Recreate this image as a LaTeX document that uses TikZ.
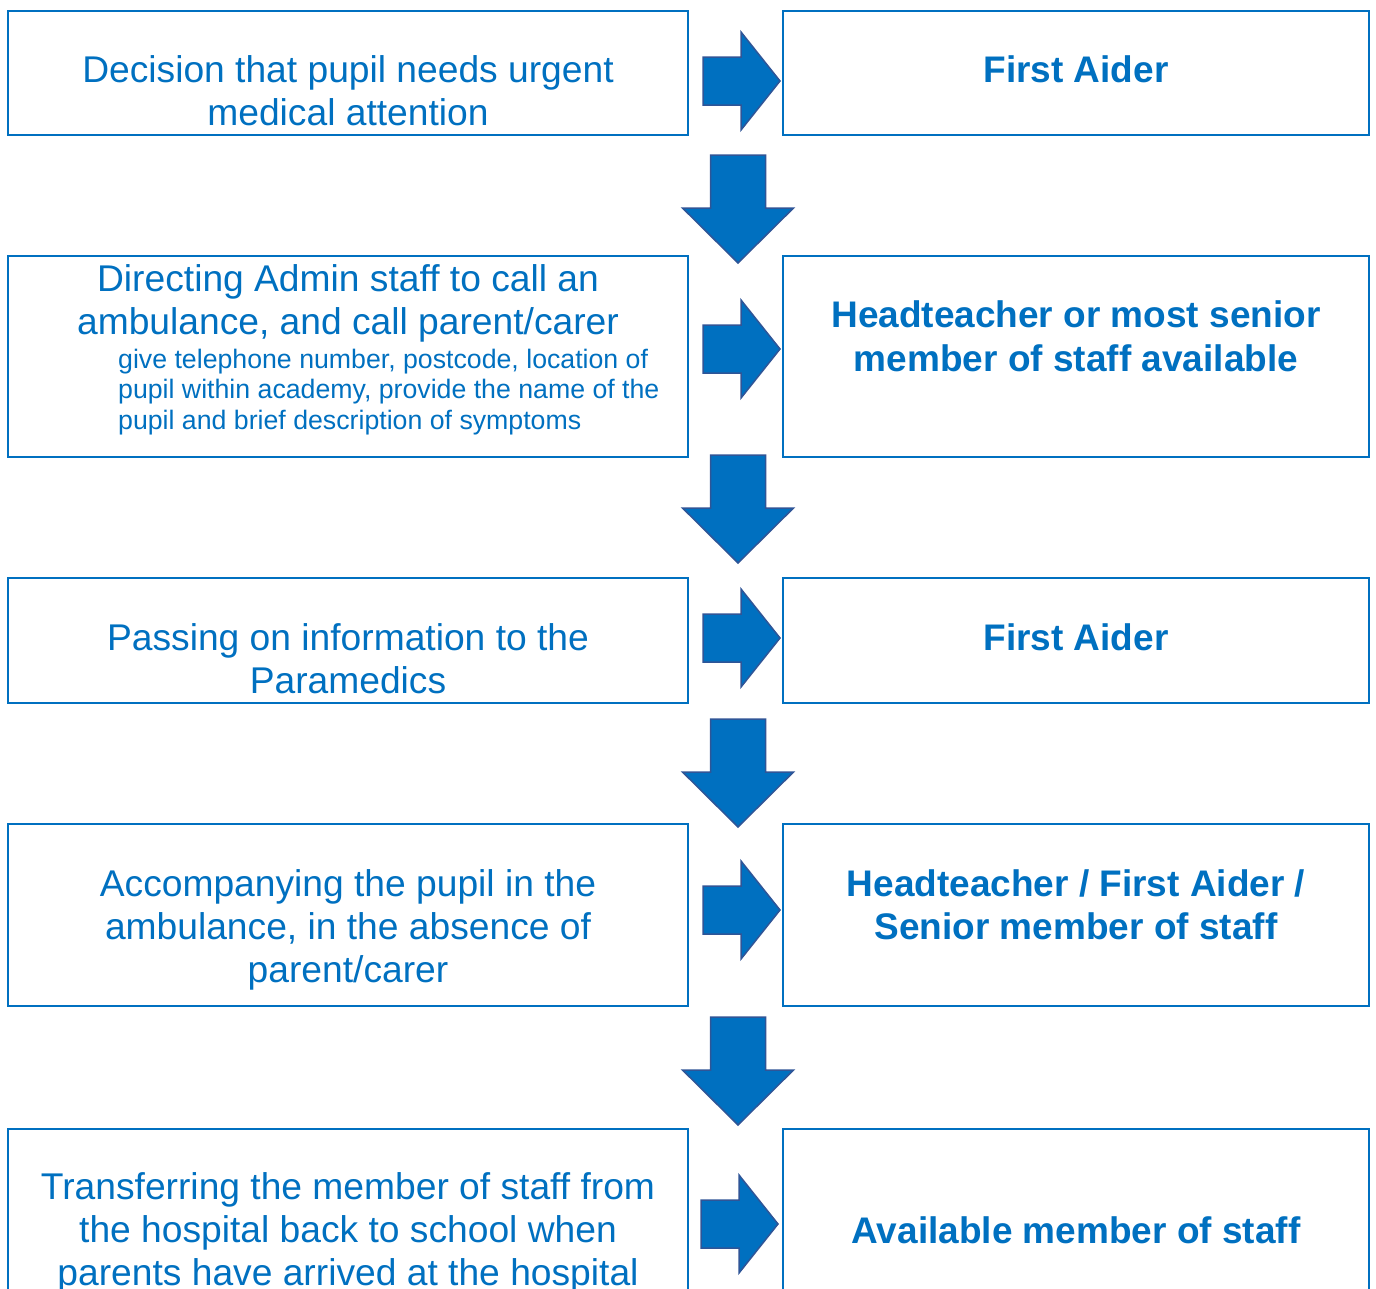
\documentclass[tikz,border=0pt]{standalone}
\usepackage{fontspec}
\setmainfont{Liberation Sans}
\definecolor{blu}{HTML}{0070C0}
\definecolor{arrowline}{HTML}{2F5597}
\begin{document}
\begin{tikzpicture}[x=1pt,y=-1pt,
 box/.style={draw=blu, line width=2pt, inner sep=0pt},
 big/.style={font=\fontsize{37.2}{43}\selectfont, text=blu, align=center, inner sep=0pt, anchor=base},
 boldtxt/.style={font=\fontsize{37}{43.5}\selectfont\bfseries, text=blu, align=center, inner sep=0pt, anchor=base},
 small/.style={font=\fontsize{26.7}{30.5}\selectfont, text=blu, align=left, inner sep=0pt, anchor=base west},
 blockarrow/.style={fill=blu, draw=arrowline, line width=1.5pt, line join=miter},
 rarrow/.pic={\path[blockarrow] (0,-24) -- (38,-24) -- (38,-49) -- (77,0) -- (38,49) -- (38,24) -- (0,24) -- cycle;},
 darrow/.pic={\path[blockarrow] (-27.5,0) -- (27.5,0) -- (27.5,53) -- (55.5,53) -- (0,108) -- (-55.5,53) -- (-27.5,53) -- cycle;}]
\useasboundingbox (0,0) rectangle (1376,1288);
\clip (0,0) rectangle (1376,1288);
% boxes
\node[box, minimum width=680pt, minimum height=124pt] (L1) at (348,73) {};
\node[box, minimum width=586pt, minimum height=124pt] (R1) at (1076,73) {};
\node[box, minimum width=680pt, minimum height=201pt] (L2) at (348,356.5) {};
\node[box, minimum width=586pt, minimum height=201pt] (R2) at (1076,356.5) {};
\node[box, minimum width=680pt, minimum height=125pt] (L3) at (348,640.5) {};
\node[box, minimum width=586pt, minimum height=125pt] (R3) at (1076,640.5) {};
\node[box, minimum width=680pt, minimum height=182pt] (L4) at (348,915) {};
\node[box, minimum width=586pt, minimum height=182pt] (R4) at (1076,915) {};
\node[box, minimum width=680pt, minimum height=190pt] (L5) at (348,1224) {};
\node[box, minimum width=586pt, minimum height=190pt] (R5) at (1076,1224) {};
% texts (anchor = baseline of last line)
\node[big] (t1) at (348,125) {Decision that pupil needs urgent\\medical attention};
\node[boldtxt] (u1) at (1076,82) {First Aider};
\node[big] (t2) at (348,334) {Directing Admin staff to call an\\ambulance, and call parent/carer};
\node[small] (t2s) at (118,429) {give telephone number, postcode, location of\\pupil within academy, provide the name of the\\pupil and brief description of symptoms};
\node[boldtxt] (u2) at (1076,371) {Headteacher or most senior\\member of staff available};
\node[big] (t3) at (348,693.5) {Passing on information to the\\Paramedics};
\node[boldtxt] (u3) at (1076,650.5) {First Aider};
\node[big] (t4) at (348,982) {Accompanying the pupil in the\\ambulance, in the absence of\\parent/carer};
\node[boldtxt] (u4) at (1076,939.5) {Headteacher / First Aider /\\Senior member of staff};
\node[big] (t5) at (348,1285.5) {Transferring the member of staff from\\the hospital back to school when\\parents have arrived at the hospital};
\node[boldtxt] (u5) at (1076,1243.5) {Available member of staff};
% arrows
\pic at (703,81) {rarrow};
\pic at (703,349) {rarrow};
\pic at (703,638) {rarrow};
\pic at (703,910) {rarrow};
\pic at (701,1224) {rarrow};
\pic at (738,155) {darrow};
\pic at (738,455) {darrow};
\pic at (738,719) {darrow};
\pic at (738,1017) {darrow};
\end{tikzpicture}
\end{document}
